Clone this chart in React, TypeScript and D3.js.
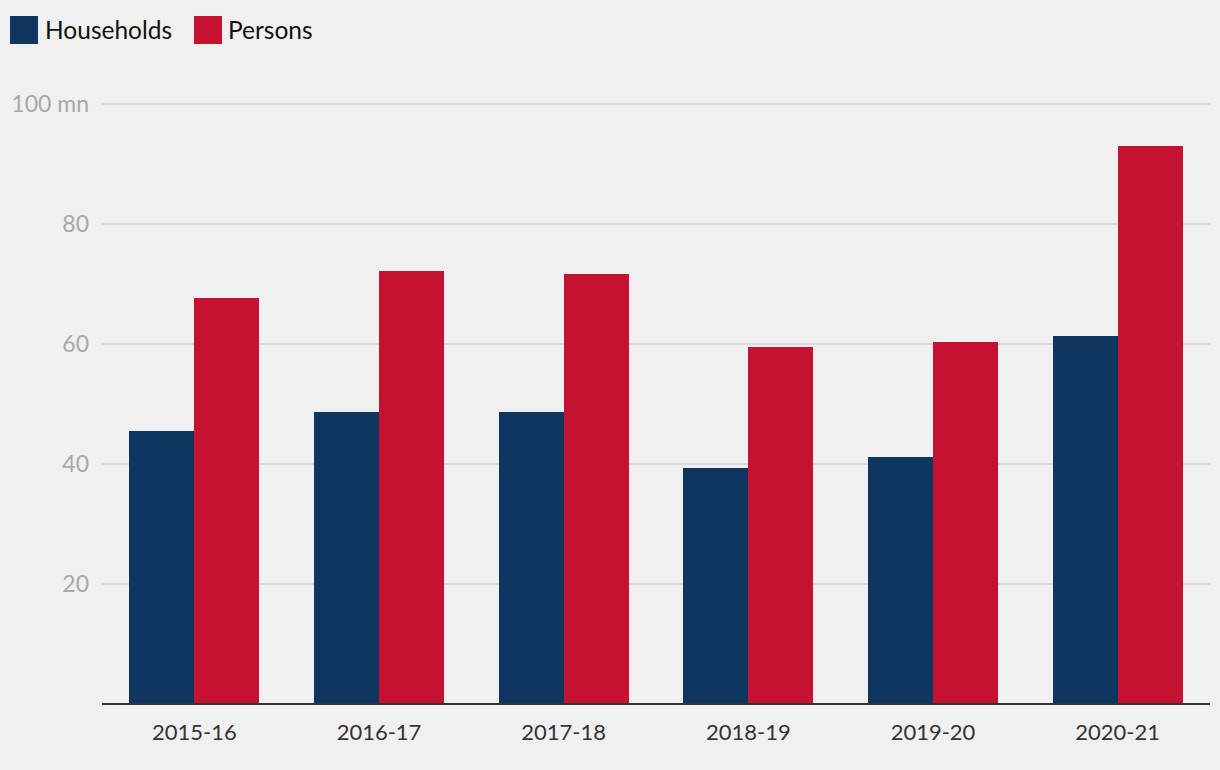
import React from "react";
import * as d3 from "d3";

const categories = ["2015-16", "2016-17", "2017-18", "2018-19", "2019-20", "2020-21"];
const households = [45.5, 48.7, 48.7, 39.3, 41.2, 61.4];
const persons = [67.7, 72.2, 71.7, 59.5, 60.4, 93.0];
const yTicks = [20, 40, 60, 80, 100];
const seriesNames = ["Households", "Persons"];
const colors = ["#0e3661", "#c41230"];

const W = 1220, H = 770;
const FONT = "Lato, 'Source Sans Pro', 'Open Sans', sans-serif";

export default function App() {
  const x = d3.scaleBand<string>().domain(categories).range([102, 1210]).paddingInner(0.296).paddingOuter(0.148);
  const xs = d3.scaleBand<string>().domain(seriesNames).range([0, x.bandwidth()]);
  const y = d3.scaleLinear().domain([0, 100]).range([704, 104]);
  const series = [households, persons];
  return (
    <svg width={W} height={H} style={{ position: "absolute", left: 0, top: 0, background: "#f0f0f0" }} fontFamily={FONT}>
      <rect x={0} y={0} width={W} height={H} fill="#f0f0f0" />
      {yTicks.map((t) => (
        <g key={t}>
          <line x1={102} x2={1210} y1={y(t)} y2={y(t)} stroke="#dadada" strokeWidth={2} />
          <text x={89} y={y(t)} dy="0.35em" textAnchor="end" fontSize={23} fill="#a8a8a8">
            {t === 100 ? "100 mn" : t}
          </text>
        </g>
      ))}
      {categories.map((c, i) => (
        <g key={c}>
          {series.map((s, j) => (
            <rect key={j} x={Math.round((x(c) ?? 0) + (xs(seriesNames[j]) ?? 0))} y={y(s[i])} width={Math.round(xs.bandwidth())} height={y(0) - y(s[i])} fill={colors[j]} shapeRendering="crispEdges" />
          ))}
          <text x={(x(c) ?? 0) + x.bandwidth() / 2} y={732} dy="0.35em" textAnchor="middle" fontSize={22} fill="#333">
            {c}
          </text>
        </g>
      ))}
      <line x1={102} x2={1210} y1={704} y2={704} stroke="#333" strokeWidth={2} />
      <g>
        <rect x={10} y={16} width={28} height={28} fill={colors[0]} />
        <text x={45} y={30} dy="0.35em" fontSize={24.5} fill="#111">{seriesNames[0]}</text>
        <rect x={194} y={16} width={28} height={28} fill={colors[1]} />
        <text x={228} y={30} dy="0.35em" fontSize={24.5} fill="#111">{seriesNames[1]}</text>
      </g>
    </svg>
  );
}
